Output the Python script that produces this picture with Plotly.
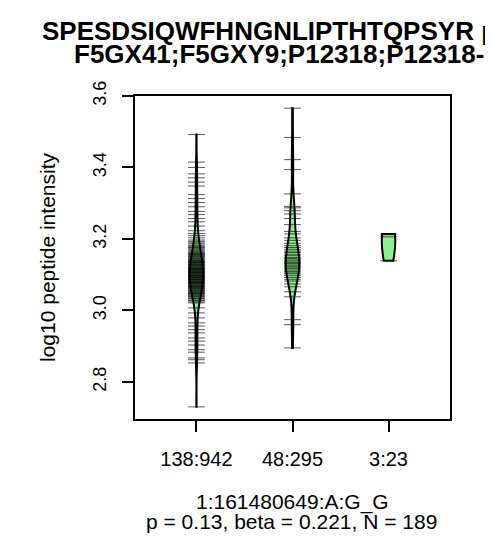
import plotly.graph_objects as go

# ---- data ----
categories = ["138:942", "48:295", "3:23"]

group1 = [
    3.492, 3.415, 3.400, 3.382, 3.371, 3.359, 3.348, 3.324, 3.313, 3.302,
    3.290, 3.277, 3.268, 3.257, 3.248, 3.236, 3.223,
    3.021, 3.024, 3.028, 3.029, 3.033, 3.034, 3.037, 3.039,
    3.041, 3.043, 3.045, 3.047, 3.048, 3.050, 3.052, 3.054, 3.055, 3.057, 3.059,
    3.061, 3.062, 3.064, 3.066, 3.067, 3.068, 3.070, 3.071, 3.073, 3.075, 3.076, 3.077, 3.078, 3.079,
    3.081, 3.082, 3.083, 3.085, 3.086, 3.087, 3.088, 3.090, 3.091, 3.092, 3.093, 3.095, 3.096, 3.097, 3.098, 3.099,
    3.101, 3.102, 3.103, 3.105, 3.106, 3.107, 3.108, 3.109, 3.111, 3.112, 3.114, 3.115, 3.116, 3.117, 3.118, 3.119,
    3.121, 3.122, 3.124, 3.125, 3.127, 3.128, 3.129, 3.131, 3.133, 3.134, 3.135, 3.137, 3.138, 3.139,
    3.141, 3.143, 3.145, 3.147, 3.149, 3.151, 3.153, 3.155, 3.156, 3.158, 3.159,
    3.162, 3.165, 3.168, 3.171, 3.174, 3.176, 3.179,
    3.182, 3.186, 3.189, 3.193, 3.197,
    3.203, 3.209, 3.215,
    3.007, 2.993, 2.979, 2.965, 2.956, 2.946, 2.937, 2.923, 2.914, 2.903,
    2.890, 2.883, 2.867, 2.862, 2.853, 2.730,
]

group2 = [
    3.566, 3.484, 3.422, 3.394, 3.326, 3.291, 3.287, 3.279, 3.270, 3.257, 3.240, 3.221,
    3.214, 3.203, 3.196, 3.188, 3.181, 3.176, 3.171, 3.166, 3.162,
    3.157, 3.153, 3.148, 3.145, 3.141, 3.138, 3.134, 3.131, 3.127, 3.124, 3.121,
    3.117, 3.113, 3.109, 3.105, 3.102, 3.097, 3.092, 3.087, 3.082,
    3.074, 3.066, 3.052, 3.038,
    2.974, 2.960, 2.895,
]

group3 = [3.214, 3.206, 3.139]

groups = [group1, group2, group3]
bandwidths = [0.035, 0.035, 0.05]

y_ticks = [2.8, 3.0, 3.2, 3.4, 3.6]
y_tick_labels = ["2.8", "3.0", "3.2", "3.4", "3.6"]

title_line1 = "SPESDSIQWFHNGNLIPTHTQPSYR pQTL"
title_line2 = "F5GX41;F5GXY9;P12318;P12318-2"
x_title_line1 = "1:161480649:A:G_G"
x_title_line2 = "p = 0.13, beta = 0.221, N = 189"
y_title = "log10 peptide intensity"

FONT = "Liberation Sans, Arial, Helvetica, sans-serif"

fig = go.Figure()
for i, (vals, bw) in enumerate(zip(groups, bandwidths)):
    fig.add_trace(go.Violin(
        x0=i + 1,
        y=vals,
        name=categories[i],
        points="all",
        pointpos=0,
        jitter=0,
        marker=dict(symbol="line-ew", size=12, color="rgba(0,0,0,0.65)",
                    line=dict(width=1, color="rgba(0,0,0,0.65)")),
        fillcolor="#90EE90",
        line=dict(color="black", width=2),
        spanmode="hard",
        bandwidth=bw,
        width=0.14,
        scalemode="width",
        box_visible=False,
        meanline_visible=False,
        showlegend=False,
        opacity=1,
    ))

L, R, T, B = 127, 442, 88, 411
W, H = 493, 543

def px(x):
    return (x - L) / (R - L)

def py(y):
    return (B - y) / (B - T)

fig.update_layout(
    width=W, height=H,
    margin=dict(l=L, r=W - R, t=T, b=H - B),
    paper_bgcolor="white", plot_bgcolor="white",
    violinmode="overlay",
    font=dict(family=FONT, color="black"),
    xaxis=dict(
        range=[0.36, 3.64],
        tickvals=[1, 2, 3], ticktext=categories,
        showline=True, mirror=True, linecolor="black", linewidth=1.5,
        ticks="outside", ticklen=11, tickwidth=1.5, tickcolor="black",
        showgrid=False, zeroline=False,
        tickfont=dict(size=20, family=FONT, color="black"),
        ticklabelstandoff=10,
    ),
    yaxis=dict(
        range=[2.696, 3.60],
        tickvals=y_ticks, ticktext=y_tick_labels,
        showline=True, mirror=True, linecolor="black", linewidth=1.5,
        ticks="outside", ticklen=11, tickwidth=1.5, tickcolor="black",
        showgrid=False, zeroline=False,
        tickangle=-90,
        tickfont=dict(size=18, family=FONT, color="black"),
        ticklabelstandoff=9,
    ),
    annotations=[
        dict(text="<b>" + title_line1 + "</b>", xref="paper", yref="paper",
             x=px(32), y=py(23), xanchor="left", yanchor="middle",
             showarrow=False, font=dict(size=26, family=FONT, color="black")),
        dict(text="<b>" + title_line2 + "</b>", xref="paper", yref="paper",
             x=px(64), y=py(46), xanchor="left", yanchor="middle",
             showarrow=False, font=dict(size=26, family=FONT, color="black")),
        dict(text=y_title, xref="paper", yref="paper",
             x=px(39), y=py(250), xanchor="center", yanchor="middle",
             textangle=-90, showarrow=False,
             font=dict(size=21, family=FONT, color="black")),
        dict(text=x_title_line1, xref="paper", yref="paper",
             x=px(284), y=py(494), xanchor="center", yanchor="middle",
             showarrow=False, font=dict(size=21, family=FONT, color="black")),
        dict(text=x_title_line2, xref="paper", yref="paper",
             x=px(283), y=py(513), xanchor="center", yanchor="middle",
             showarrow=False, font=dict(size=21, family=FONT, color="black")),
    ],
)

fig.write_html("out.html")
